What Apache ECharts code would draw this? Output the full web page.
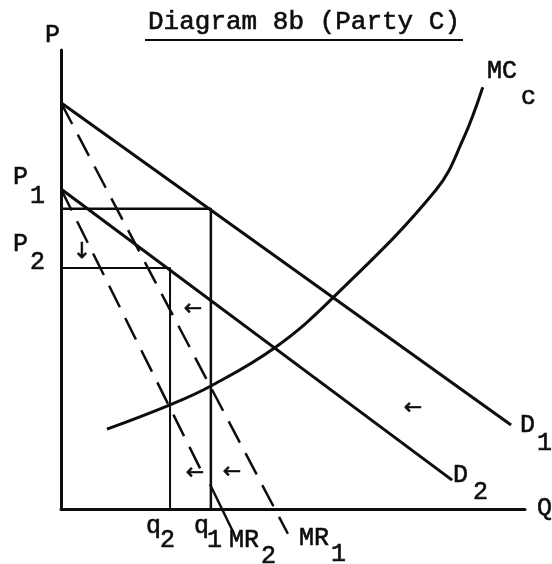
<!DOCTYPE html>
<html>
<head>
<meta charset="utf-8">
<script src="https://cdn.jsdelivr.net/npm/echarts@6/dist/echarts.min.js"></script>
<style>
html, body { margin: 0; padding: 0; background: #fff; }
#chart { width: 552px; height: 564px; }
</style>
</head>
<body>
<div id="chart"></div>
<script>
// points are [Q, P], both axes run 0..100
var demand1 = [[0, 88.5], [97.0, 18.3]];
var demand2 = [[0, 69.7], [84.3, 6.3]];
var mr1 = [[0, 88.5], [48.9, -5.4]];
var mr2 = [[0, 69.7], [30.6, 7.6]];
var mr2Tail = [[32.1, 5.4], [37.1, -5.0]];
var mcC = [[9.9, 17.4], [23.5, 22.7], [32.3, 26.8], [46.3, 35.3], [58.8, 46.2], [80.8, 69.5], [86.6, 80.4], [90.9, 91.9]];
var p1 = 65.4, q1 = 32.3;
var p2 = 52.5, q2 = 23.5;
var box1 = [[0, p1], [q1, p1], [q1, 0]];
var box2 = [[0, p2], [q2, p2], [q2, 0]];

var ink = '#0d0d0d';
var mono = '"Liberation Mono", "DejaVu Sans Mono", monospace';

function seg(data, width, dash, smooth) {
    return {
        type: 'line',
        data: data,
        symbol: 'none',
        clip: false,
        silent: true,
        smooth: smooth || false,
        lineStyle: { color: ink, width: width, type: dash || 'solid' }
    };
}

// text a bit heavier, like the typewriter letters
function txt(s, x, y, size, align, family) {
    return {
        type: 'text',
        x: x,
        y: y,
        style: {
            text: s,
            font: size + 'px ' + (family || mono),
            fill: ink,
            stroke: ink,
            lineWidth: 0.6,
            textAlign: align || 'left',
            textVerticalAlign: 'middle'
        }
    };
}

function arrow(s, x, y) {
    return txt(s, x, y, 22, 'center', '"DejaVu Sans"');
}

var axisStyle = {
    type: 'value',
    min: 0,
    max: 100,
    axisLine: { show: true, onZero: false, lineStyle: { color: ink, width: 3 } },
    axisTick: { show: false },
    axisLabel: { show: false },
    splitLine: { show: false }
};

var myChart = echarts.init(document.getElementById('chart'));
var option = {
    animation: false,
    backgroundColor: '#fff',
    grid: { left: 61, right: 27, top: 50, bottom: 55 },
    xAxis: axisStyle,
    yAxis: axisStyle,
    series: [
        seg(demand1, 3),
        seg(demand2, 3),
        seg(mr1, 2.5, [24, 12]),
        seg(mr2, 2.5, [24, 12]),
        seg(mr2Tail, 2.5),
        seg(mcC, 3, 'solid', 0.4),
        seg(box1, 2.5),
        seg(box2, 2)
    ],
    graphic: [
        txt('Diagram 8b (Party C)', 304, 22, 26, 'center'),
        { type: 'line', shape: { x1: 145, y1: 40, x2: 463, y2: 40 }, style: { stroke: ink, lineWidth: 2 } },
        txt('P', 45, 35, 25),
        txt('P', 13, 177, 25), txt('1', 30, 196, 25),
        txt('P', 13, 244, 25), txt('2', 30, 262, 25),
        txt('q', 146, 526, 25), txt('2', 160, 540, 25),
        txt('q', 194, 526, 25), txt('1', 207, 540, 25),
        txt('MR', 229, 540, 25), txt('2', 261, 556, 25),
        txt('MR', 299, 538, 25), txt('1', 331, 554, 25),
        txt('D', 520, 425, 25), txt('1', 537, 443, 25),
        txt('D', 453, 475, 25), txt('2', 473, 492, 25),
        txt('Q', 537, 508, 25),
        txt('MC', 487, 71, 25), txt('c', 521, 97, 25),
        arrow('\u2190', 193, 309),
        arrow('\u2190', 195, 473),
        arrow('\u2190', 232, 472),
        arrow('\u2190', 413, 408),
        arrow('\u2193', 82, 252)
    ]
};
myChart.setOption(option);
</script>
</body>
</html>
